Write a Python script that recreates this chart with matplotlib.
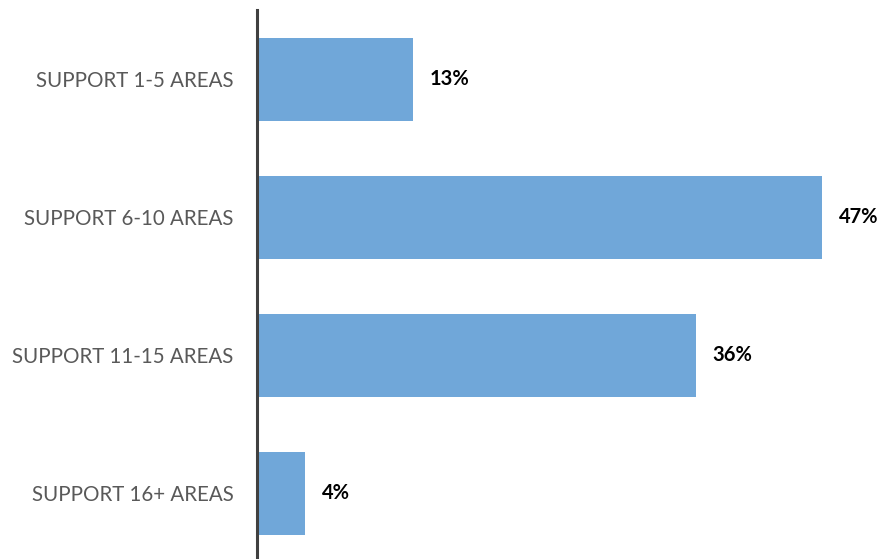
import matplotlib
matplotlib.use('Agg')
import matplotlib.pyplot as plt

categories = ['SUPPORT 1-5 AREAS', 'SUPPORT 6-10 AREAS', 'SUPPORT 11-15 AREAS', 'SUPPORT 16+ AREAS']
values = [13, 47, 36.5, 4]
labels = ['13%', '47%', '36%', '4%']

plt.rcParams['font.family'] = ['Lato', 'DejaVu Sans']

fig = plt.figure(figsize=(8.83, 5.59), dpi=100)
ax = fig.add_axes([0.291, -0.006, 0.681, 0.988])

y = list(range(len(categories)))
bars = ax.barh(y, values, height=0.6, color='#70A7D9', edgecolor='none')
for bar, lab in zip(bars, labels):
    ax.text(bar.get_width() + 1.4, bar.get_y() + bar.get_height() / 2, lab,
            ha='left', va='center', fontsize=14.5, fontweight='bold', color='#000000')

ax.set_ylim(3.5, -0.5)
ax.set_xlim(0, 50)
ax.set_yticks(y)
ax.set_yticklabels(categories, fontsize=14.8, color='#595959')
ax.tick_params(axis='y', length=0, pad=17)
ax.set_xticks([])
for s in ['top', 'right', 'bottom']:
    ax.spines[s].set_visible(False)
ax.spines['left'].set_linewidth(2.2)
ax.spines['left'].set_color('#404040')

fig.savefig('out.png', dpi=100)
